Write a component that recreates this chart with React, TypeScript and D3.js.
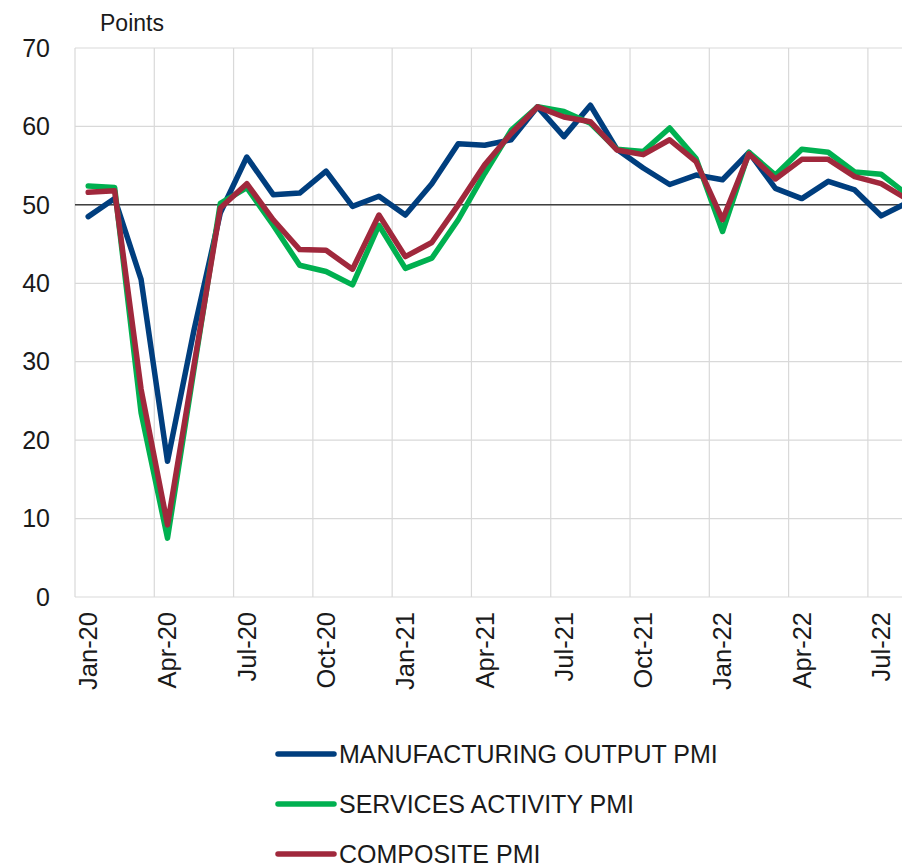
import React from "react";
import * as d3 from "d3";

const months = [
  "Jan-20","Feb-20","Mar-20","Apr-20","May-20","Jun-20","Jul-20","Aug-20","Sep-20","Oct-20","Nov-20","Dec-20",
  "Jan-21","Feb-21","Mar-21","Apr-21","May-21","Jun-21","Jul-21","Aug-21","Sep-21","Oct-21","Nov-21","Dec-21",
  "Jan-22","Feb-22","Mar-22","Apr-22","May-22","Jun-22","Jul-22","Aug-22",
];

const manufacturing = [
  48.5, 50.8, 40.5, 17.3, 34.0, 49.0, 56.1, 51.3, 51.5, 54.3, 49.8, 51.1,
  48.7, 52.7, 57.8, 57.6, 58.3, 62.5, 58.7, 62.7, 57.1, 54.7, 52.6, 53.8,
  53.2, 56.7, 52.1, 50.8, 53.0, 51.9, 48.6, 50.3,
];

const services = [
  52.4, 52.2, 23.5, 7.5, 29.0, 50.2, 52.2, 47.4, 42.3, 41.5, 39.8, 47.4,
  41.9, 43.2, 48.1, 54.0, 59.5, 62.5, 61.9, 60.4, 57.1, 56.8, 59.8, 55.9,
  46.6, 56.7, 53.8, 57.1, 56.7, 54.2, 53.9, 51.3,
];

const composite = [
  51.6, 51.8, 26.5, 9.2, 29.5, 49.6, 52.7, 48.1, 44.3, 44.2, 41.8, 48.7,
  43.4, 45.2, 50.0, 55.1, 59.1, 62.5, 61.2, 60.6, 57.0, 56.4, 58.3, 55.5,
  48.1, 56.5, 53.3, 55.8, 55.8, 53.6, 52.7, 50.7,
];

const yTicks = [0, 10, 20, 30, 40, 50, 60, 70];
const seriesNames = ["MANUFACTURING OUTPUT PMI", "SERVICES ACTIVITY PMI", "COMPOSITE PMI"];
const seriesColors = ["#003e7e", "#00b050", "#a0283c"];

const W = 902;
const H = 866;
const left = 75;
const band = 26.43;
const top = 48;
const bottom = 597;
const font = "'Liberation Sans', Arial, Helvetica, sans-serif";

export default function App() {
  const x = d3.scaleBand<string>().domain(months).range([left, left + band * months.length]).paddingInner(0).paddingOuter(0);
  const y = d3.scaleLinear().domain([0, 70]).range([bottom, top]);
  const cx = (m: string) => (x(m) as number) + x.bandwidth() / 2;
  const line = d3
    .line<number>()
    .x((_, i) => cx(months[i]))
    .y((v) => y(v));
  const allSeries = [manufacturing, services, composite];
  const labelMonths = months.filter((_, i) => i % 3 === 0);

  return (
    <svg
      width={W}
      height={H}
      style={{ position: "absolute", left: 0, top: 0, background: "#fff" }}
      fontFamily={font}
    >
      <rect x={0} y={0} width={W} height={H} fill="#fff" />
      {/* horizontal gridlines */}
      {yTicks.map((t) => (
        <line key={"h" + t} x1={left} x2={W} y1={y(t)} y2={y(t)} stroke="#d9d9d9" strokeWidth={1.2} />
      ))}
      {/* vertical gridlines */}
      {labelMonths.map((m) => (
        <line key={"v" + m} x1={x(m) as number} x2={x(m) as number} y1={top} y2={bottom} stroke="#d9d9d9" strokeWidth={1.2} />
      ))}
      {/* 50 reference line */}
      <line x1={left} x2={W} y1={y(50)} y2={y(50)} stroke="#404040" strokeWidth={1.5} />
      {/* y tick labels */}
      {yTicks.map((t) => (
        <text key={"yl" + t} x={50} y={y(t)} dy="0.35em" textAnchor="end" fontSize={25} fill="#1a1a1a">
          {t}
        </text>
      ))}
      <text x={100} y={31} fontSize={23} fill="#1a1a1a">Points</text>
      {/* x tick labels */}
      {labelMonths.map((m) => (
        <text
          key={"xl" + m}
          transform={`translate(${cx(m)},${612}) rotate(-90)`}
          dy="0.35em"
          textAnchor="end"
          fontSize={25.5}
          fill="#1a1a1a"
        >
          {m}
        </text>
      ))}
      {/* series */}
      {allSeries.map((s, k) => (
        <path
          key={"s" + k}
          d={line(s) || ""}
          fill="none"
          stroke={seriesColors[k]}
          strokeWidth={5.5}
          strokeLinejoin="round"
          strokeLinecap="round"
        />
      ))}
      {/* legend */}
      {seriesNames.map((n, k) => (
        <g key={"lg" + k} transform={`translate(0,${754 + k * 50})`}>
          <line x1={278} x2={334} y1={0} y2={0} stroke={seriesColors[k]} strokeWidth={5.5} strokeLinecap="round" />
          <text x={339} y={0} dy="0.35em" fontSize={25} fill="#1a1a1a">{n}</text>
        </g>
      ))}
    </svg>
  );
}
